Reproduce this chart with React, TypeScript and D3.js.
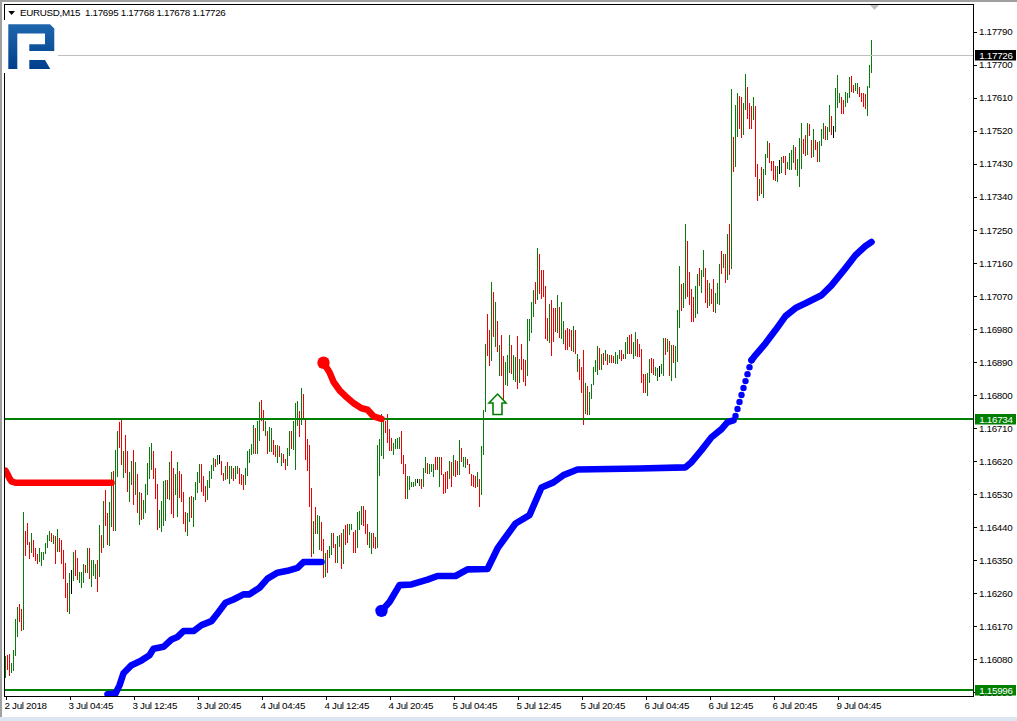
import React, { useEffect, useRef } from "react";
import { select, scaleLinear, axisRight, axisBottom, line, format } from "d3";

// all prices are in points (1.17726 -> 117726)
const barHighs = [
  116089, 116091, 116094, 116070, 116105, 116189, 116223, 116232, 116217, 116480,
  116429, 116452, 116400, 116425, 116405, 116384, 116368, 116382, 116373, 116373,
  116397, 116418, 116429, 116423, 116418, 116415, 116436, 116411, 116405, 116377,
  116343, 116288, 116315, 116323, 116373, 116377, 116355, 116318, 116318, 116339,
  116336, 116382, 116382, 116350, 116350, 116339, 116350, 116445, 116418, 116511,
  116541, 116478, 116508, 116591, 116593, 116650, 116703, 116727, 116732, 116647,
  116691, 116648, 116589, 116620, 116650, 116618, 116585, 116535, 116532, 116514,
  116557, 116616, 116659, 116670, 116647, 116600, 116557, 116487, 116512, 116567,
  116568, 116568, 116618, 116647, 116602, 116586, 116618, 116593, 116586, 116537,
  116482, 116479, 116521, 116526, 116523, 116564, 116591, 116612, 116612, 116580,
  116552, 116568, 116593, 116609, 116629, 116626, 116636, 116636, 116621, 116588,
  116606, 116618, 116606, 116606, 116600, 116606, 116606, 116600, 116586, 116582,
  116600, 116648, 116652, 116666, 116718, 116711, 116729, 116781, 116786, 116759,
  116730, 116702, 116713, 116711, 116677, 116663, 116663, 116661, 116643, 116639,
  116627, 116657, 116702, 116701, 116729, 116779, 116783, 116756, 116818, 116802,
  116733, 116681, 116663, 116548, 116456, 116495, 116473, 116470, 116453, 116408,
  116370, 116377, 116389, 116425, 116425, 116395, 116416, 116418, 116423, 116435,
  116447, 116448, 116450, 116450, 116427, 116432, 116482, 116485, 116499, 116497,
  116488, 116448, 116427, 116423, 116424, 116414, 116663, 116679, 116748, 116731,
  116730, 116748, 116707, 116684, 116668, 116680, 116683, 116686, 116702, 116636,
  116612, 116579, 116579, 116564, 116564, 116570, 116570, 116570, 116570, 116600,
  116630, 116615, 116612, 116612, 116612, 116632, 116632, 116632, 116630, 116586,
  116589, 116594, 116621, 116618, 116636, 116623, 116621, 116677, 116657, 116632,
  116632, 116627, 116612, 116586, 116582, 116580, 116591, 116570, 116661, 116759,
  116938, 117020, 116977, 117108, 117081, 117054, 117001, 116936, 116963, 116906,
  116890, 116908, 116963, 116936, 116908, 116904, 116960, 116898, 116938, 116897,
  116895, 117008, 117007, 117054, 117086, 117108, 117202, 117184, 117142, 117142,
  117096, 117011, 117049, 117060, 117036, 117036, 117072, 117040, 117054, 117001,
  116977, 116984, 116981, 116978, 116987, 116978, 116911, 116899, 116877, 116922,
  116833, 116824, 116809, 116831, 116877, 116895, 116933, 116927, 116911, 116915,
  116922, 116913, 116908, 116908, 116906, 116916, 116908, 116924, 116922, 116913,
  116945, 116957, 116963, 116966, 116945, 116972, 116954, 116938, 116925, 116857,
  116857, 116860, 116898, 116900, 116898, 116877, 116875, 116879, 116885, 116956,
  116956, 116954, 116947, 116936, 116936, 116933, 117031, 117151, 117102, 117104,
  117267, 117219, 117134, 117088, 117066, 117096, 117129, 117147, 117140, 117195,
  117147, 117113, 117104, 117090, 117116, 117077, 117106, 117157, 117192, 117184,
  117184, 117240, 117266, 117633, 117502, 117590, 117623, 117614, 117611, 117597,
  117674, 117638, 117597, 117588, 117611, 117587, 117429, 117390, 117420, 117415,
  117458, 117492, 117486, 117437, 117437, 117425, 117424, 117440, 117449, 117451,
  117451, 117434, 117460, 117467, 117481, 117476, 117442, 117501, 117540, 117497,
  117508, 117540, 117538, 117495, 117526, 117495, 117490, 117492, 117526, 117540,
  117533, 117529, 117590, 117560, 117533, 117637, 117672, 117624, 117611, 117605,
  117626, 117622, 117667, 117669, 117644, 117649, 117651, 117638, 117624, 117622,
  117620, 117642, 117699, 117768,
];

const barLows = [
  116030, 116050, 116034, 116043, 116048, 116089, 116141, 116182, 116157, 116159,
  116362, 116391, 116353, 116370, 116359, 116347, 116339, 116344, 116334, 116350,
  116367, 116382, 116403, 116400, 116394, 116339, 116373, 116371, 116341, 116298,
  116247, 116209, 116203, 116258, 116293, 116306, 116296, 116287, 116275, 116288,
  116316, 116314, 116298, 116276, 116306, 116300, 116264, 116303, 116369, 116383,
  116443, 116391, 116389, 116441, 116430, 116430, 116577, 116656, 116609, 116575,
  116588, 116537, 116509, 116555, 116500, 116527, 116478, 116446, 116459, 116462,
  116478, 116527, 116571, 116596, 116570, 116518, 116432, 116437, 116428, 116443,
  116457, 116516, 116514, 116476, 116464, 116527, 116467, 116520, 116509, 116450,
  116426, 116416, 116455, 116464, 116441, 116514, 116534, 116559, 116537, 116525,
  116509, 116514, 116546, 116571, 116593, 116603, 116609, 116612, 116582, 116566,
  116568, 116570, 116557, 116570, 116567, 116570, 116586, 116557, 116556, 116541,
  116556, 116579, 116614, 116636, 116639, 116639, 116639, 116674, 116730, 116702,
  116688, 116639, 116645, 116645, 116636, 116630, 116614, 116632, 116606, 116614,
  116595, 116606, 116633, 116654, 116650, 116595, 116716, 116686, 116718, 116736,
  116624, 116593, 116495, 116359, 116368, 116422, 116421, 116377, 116376, 116302,
  116305, 116316, 116357, 116364, 116382, 116343, 116343, 116386, 116325, 116339,
  116391, 116398, 116418, 116432, 116370, 116370, 116382, 116432, 116447, 116444,
  116421, 116391, 116382, 116368, 116382, 116380, 116382, 116579, 116633, 116625,
  116697, 116668, 116648, 116647, 116636, 116654, 116654, 116654, 116613, 116586,
  116518, 116517, 116542, 116550, 116550, 116553, 116559, 116553, 116544, 116550,
  116588, 116586, 116586, 116591, 116577, 116595, 116595, 116550, 116582, 116530,
  116532, 116545, 116570, 116550, 116579, 116577, 116582, 116582, 116618, 116603,
  116600, 116609, 116586, 116553, 116550, 116548, 116550, 116496, 116527, 116636,
  116754, 116906, 116879, 116892, 116957, 116931, 116918, 116852, 116852, 116786,
  116827, 116825, 116859, 116857, 116840, 116836, 116816, 116833, 116868, 116836,
  116824, 116852, 116948, 116968, 117013, 117047, 117058, 117075, 117063, 117067,
  116952, 116947, 116942, 116906, 116945, 116972, 116968, 116956, 116954, 116940,
  116922, 116924, 116931, 116920, 116918, 116911, 116863, 116840, 116806, 116718,
  116748, 116745, 116745, 116790, 116827, 116863, 116854, 116868, 116868, 116881,
  116893, 116881, 116888, 116888, 116888, 116884, 116884, 116899, 116893, 116897,
  116899, 116913, 116913, 116913, 116898, 116906, 116904, 116904, 116834, 116806,
  116806, 116798, 116834, 116859, 116855, 116852, 116839, 116850, 116857, 116852,
  116909, 116918, 116852, 116839, 116888, 116847, 116890, 116983, 117029, 117036,
  117063, 117067, 117045, 116999, 116999, 117011, 117020, 117097, 117078, 117122,
  117051, 117036, 117042, 117049, 117027, 117024, 117047, 117045, 117131, 117145,
  117106, 117113, 117127, 117143, 117408, 117422, 117502, 117524, 117500, 117508,
  117576, 117552, 117524, 117524, 117549, 117395, 117329, 117342, 117347, 117337,
  117399, 117446, 117431, 117410, 117386, 117384, 117381, 117401, 117406, 117431,
  117399, 117415, 117413, 117413, 117431, 117413, 117397, 117368, 117416, 117458,
  117451, 117454, 117506, 117447, 117449, 117467, 117434, 117436, 117479, 117499,
  117496, 117495, 117516, 117508, 117501, 117517, 117581, 117595, 117565, 117567,
  117585, 117596, 117608, 117626, 117624, 117628, 117619, 117613, 117599, 117584,
  117579, 117561, 117637, 117678,
];

// G up, R down, K unchanged, ten bars per chunk
const barDirections = [
  "GRRGGGGRRG", "RRRGRRRGGG", "GGGRGRGRRR", "RRGKGRRGGG", "RGRGGGRGRG",
  "RRGGRGGRRG", "RRGGRGRGRG", "GGGGRRRGGG", "GRGRRGGRRR", "RGGRGGGGRR",
  "RGGGGRGKRR", "GRGGRGGRRR", "GGGGGRGGRR", "GRGGRRGRGR", "RGGRGGGRGR",
  "RRRRGRGGRR", "GRGGRRGGRG", "RRGGRRGGGR", "RRGGRRGGGG", "RRRRGGGGRR",
  "RGGGGGKGRG", "GRGGGRRGRR", "RRGRGRRGRG", "GRRRRRGRGG", "GRRGRGRGRR",
  "GGGRGGRGRR", "RGGGGRGRRR", "RRGRRRGRGG", "RRRRGRGRRR", "GRGGGGGRGR",
  "GRGRRGGGRR", "GGRRGGRRRR", "RGGRRGGKGG", "RGRGRGGGRG", "GRRRRGGRGG",
  "RRGRRGGGRG", "RGRGRGGRRG", "GRRRGRRGRG", "GGRRRRGKGR", "RGGGGRGGGR",
  "RGRRGRRGGG", "RGGRKGGGRR", "GGGRRGGRRR", "RGGG",
].join("");

const resistAIndex = [0, 1, 2, 3, 5, 53];
const resistAPrice = [116594, 116584, 116573, 116565, 116561, 116561];
const resistBIndex = [159, 162, 164, 167, 170, 174, 178, 181, 184, 188];
const resistBPrice = [116888, 116862, 116836, 116813, 116797, 116778, 116764, 116760, 116742, 116735];

const supportAIndex = [51, 55, 57, 59, 63, 68, 72, 74, 79, 83, 86, 89, 94, 98, 103, 106, 110, 114, 119, 122, 127, 131, 136, 141, 146, 149, 158];
const supportAPrice = [115985, 115987, 116009, 116042, 116064, 116077, 116091, 116109, 116114, 116134, 116141, 116157, 116157, 116173, 116184, 116205, 116234, 116243, 116257, 116257, 116275, 116300, 116316, 116321, 116329, 116345, 116345];
const supportBIndex = [188, 192, 197, 203, 211, 216, 225, 231, 241, 246, 249, 255, 262, 268, 274, 279, 286, 317, 340, 343, 348, 353, 358, 361, 364];
const supportBPrice = [116212, 116236, 116282, 116284, 116297, 116307, 116307, 116325, 116326, 116382, 116405, 116450, 116473, 116548, 116562, 116582, 116597, 116600, 116603, 116617, 116650, 116685, 116707, 116726, 116731];
const supportDotIndex = [365, 366, 367, 368, 369, 370, 371, 372, 373];
const supportDotPrice = [116743, 116762, 116781, 116800, 116819, 116838, 116857, 116876, 116895];
const supportCIndex = [373, 375, 380, 385, 390, 395, 400, 408, 413, 420, 425, 430, 433];
const supportCPrice = [116895, 116909, 116941, 116977, 117015, 117037, 117050, 117072, 117099, 117146, 117181, 117206, 117217];

const priceTicks = [
  117790, 117700, 117610, 117520, 117430, 117340, 117250, 117160, 117070, 116980, 116890,
  116800, 116710, 116620, 116530, 116440, 116350, 116260, 116170, 116080, 115990,
];
const timeTickIndex = [0, 32, 64, 96, 128, 160, 192, 224, 256, 288, 320, 352, 384, 416];
const timeLabels = [
  "2 Jul 2018", "3 Jul 04:45", "3 Jul 12:45", "3 Jul 20:45", "4 Jul 04:45", "4 Jul 12:45", "4 Jul 20:45",
  "5 Jul 04:45", "5 Jul 12:45", "5 Jul 20:45", "6 Jul 04:45", "6 Jul 12:45", "6 Jul 20:45", "9 Jul 04:45",
];
const levelPrices = [116734, 115996];
const lastPrice = 117726;
const arrowBar = 246;
const arrowPrice = 116740;
const headerText = "EURUSD,M15  1.17695 1.17768 1.17678 1.17726";

const FONT = "'Liberation Sans', Arial, sans-serif";
const FONT_SIZE = 9.8;
const TRACKING = "-0.3px";
const GREEN = "#008000";
const barColors: Record<string, string> = { G: "#0a7a0a", R: "#ee0000", K: "#000000" };

const App = () => {
  const svgRef = useRef<SVGSVGElement>(null);

  useEffect(() => {
    const svg = select(svgRef.current);
    svg.selectAll("*").remove();

    const xScale = scaleLinear().domain([0, 1]).range([5.5, 7.5]);
    const yScale = scaleLinear().domain([117790, 116080]).range([31.7, 659.3]);
    const fmt = (v: number) => format(".5f")(v / 100000);

    const defs = svg.append("defs");
    defs.append("clipPath").attr("id", "plot")
      .append("rect").attr("x", 4).attr("y", 4).attr("width", 969).attr("height", 692);
    const grad = defs.append("linearGradient").attr("id", "logoFill")
      .attr("x1", 0).attr("y1", 0).attr("x2", 0).attr("y2", 1);
    grad.append("stop").attr("offset", 0).attr("stop-color", "#1f66ad");
    grad.append("stop").attr("offset", 1).attr("stop-color", "#003f8c");

    // window edges
    svg.append("rect").attr("width", 1017).attr("height", 721).attr("fill", "#ffffff");
    svg.append("rect").attr("width", 1017).attr("height", 2).attr("fill", "#a0a0a0");
    svg.append("rect").attr("width", 2).attr("height", 717).attr("fill", "#a0a0a0");
    svg.append("rect").attr("y", 717).attr("width", 1017).attr("height", 4).attr("fill", "#dce6f0");

    // axes
    const yAxis = axisRight(yScale)
      .tickValues(priceTicks).tickSize(3).tickPadding(2.5).tickFormat((d) => fmt(+d));
    const yG = svg.append("g").attr("transform", "translate(973.5,0)").call(yAxis as any);
    const xAxis = axisBottom(xScale)
      .tickValues(timeTickIndex).tickSize(3).tickPadding(2.3)
      .tickFormat((d) => timeLabels[timeTickIndex.indexOf(+d)]);
    const xG = svg.append("g").attr("transform", "translate(0,696.5)").call(xAxis as any);
    [yG, xG].forEach((g) => {
      g.select(".domain").remove();
      g.attr("font-family", FONT).attr("font-size", FONT_SIZE);
      g.selectAll("line").attr("stroke", "#000").attr("shape-rendering", "crispEdges");
      g.selectAll("text").attr("fill", "#000").style("letter-spacing", TRACKING);
    });
    xG.selectAll("text").attr("text-anchor", "start").attr("x", -1.5);

    const plot = svg.append("g").attr("clip-path", "url(#plot)");

    // price bars
    plot.append("g").attr("shape-rendering", "crispEdges")
      .selectAll("line").data(barHighs).join("line")
      .attr("x1", (_, i) => xScale(i)).attr("x2", (_, i) => xScale(i))
      .attr("y1", (d) => yScale(d)).attr("y2", (_, i) => yScale(barLows[i]))
      .attr("stroke", (_, i) => barColors[barDirections[i]]).attr("stroke-width", 1);

    // current price and horizontal levels
    plot.append("line").attr("x1", 58).attr("x2", 973)
      .attr("y1", yScale(lastPrice)).attr("y2", yScale(lastPrice))
      .attr("stroke", "#c0c0c0").attr("shape-rendering", "crispEdges");
    plot.selectAll(".level").data(levelPrices).join("line").attr("class", "level")
      .attr("x1", 5).attr("x2", 973)
      .attr("y1", (d) => yScale(d)).attr("y2", (d) => yScale(d))
      .attr("stroke", GREEN).attr("stroke-width", 2).attr("shape-rendering", "crispEdges");

    // indicator lines
    const drawLine = (idx: number[], vals: number[], color: string) => {
      const path = line<number>().x((d) => xScale(d)).y((_, i) => yScale(vals[i]));
      plot.append("path").attr("d", path(idx)).attr("fill", "none").attr("stroke", color)
        .attr("stroke-width", 6.6).attr("stroke-linecap", "round").attr("stroke-linejoin", "round");
    };
    drawLine(resistAIndex, resistAPrice, "#ff0000");
    drawLine(resistBIndex, resistBPrice, "#ff0000");
    drawLine(supportAIndex, supportAPrice, "#0000ff");
    drawLine(supportBIndex, supportBPrice, "#0000ff");
    drawLine(supportCIndex, supportCPrice, "#0000ff");
    plot.selectAll(".dot").data(supportDotIndex).join("circle").attr("class", "dot")
      .attr("cx", (d) => xScale(d)).attr("cy", (_, i) => yScale(supportDotPrice[i]))
      .attr("r", 3.2).attr("fill", "#0000ff");
    plot.append("circle").attr("cx", xScale(resistBIndex[0])).attr("cy", yScale(resistBPrice[0]))
      .attr("r", 6.2).attr("fill", "#ff0000");
    plot.append("circle").attr("cx", xScale(supportBIndex[0])).attr("cy", yScale(supportBPrice[0]))
      .attr("r", 6.2).attr("fill", "#0000ff");

    // buy arrow
    const ax = xScale(arrowBar);
    const ay = yScale(arrowPrice);
    plot.append("path")
      .attr("d", `M${ax},${ay - 23} L${ax + 8.5},${ay - 14} H${ax + 4.5} V${ay - 2.5} H${ax - 4.5} V${ay - 14} H${ax - 8.5} Z`)
      .attr("fill", "#ffffff").attr("stroke", GREEN).attr("stroke-width", 1.6);

    // chart frame
    svg.append("rect").attr("x", 4.5).attr("y", 4.5).attr("width", 969).attr("height", 692)
      .attr("fill", "none").attr("stroke", "#000").attr("shape-rendering", "crispEdges");
    svg.append("path").attr("d", "M870,5 H879 L874.5,10 Z").attr("fill", "#c0c0c0");

    // price labels on the scale
    const boxes = [
      { v: lastPrice, c: "#000000" },
      { v: levelPrices[0], c: GREEN },
      { v: levelPrices[1], c: GREEN },
    ];
    const boxG = svg.append("g").selectAll("g").data(boxes).join("g")
      .attr("transform", (d) => `translate(975,${Math.round(yScale(d.v)) - 5})`);
    boxG.append("rect").attr("width", 41).attr("height", 10.5).attr("fill", (d) => d.c);
    boxG.append("text").attr("x", 4.3).attr("y", 8.8).attr("fill", "#fff")
      .attr("font-family", FONT).attr("font-size", FONT_SIZE).style("letter-spacing", TRACKING).text((d) => fmt(d.v));

    // logo
    svg.append("rect").attr("x", 3).attr("y", 20).attr("width", 55).attr("height", 53).attr("fill", "#fff");
    svg.append("path")
      .attr("d", "M8.3,24.3 H50 L54.3,28.5 V51 H29.3 V44.3 H45 V33.5 H17.3 V69 H8.3 Z M29.3,60 H45 L50.3,69 H29.3 Z")
      .attr("fill", "url(#logoFill)");

    // header
    svg.append("path").attr("d", "M8.3,11 H15 L11.6,15 Z").attr("fill", "#000");
    svg.append("text").attr("x", 20).attr("y", 16.3)
      .style("white-space", "pre").style("letter-spacing", TRACKING)
      .attr("font-family", FONT).attr("font-size", FONT_SIZE).attr("fill", "#000").text(headerText);
  }, []);

  return (
    <svg
      ref={svgRef}
      width={1017}
      height={721}
      style={{ position: "fixed", left: 0, top: 0, display: "block" }}
    />
  );
};

export default App;
